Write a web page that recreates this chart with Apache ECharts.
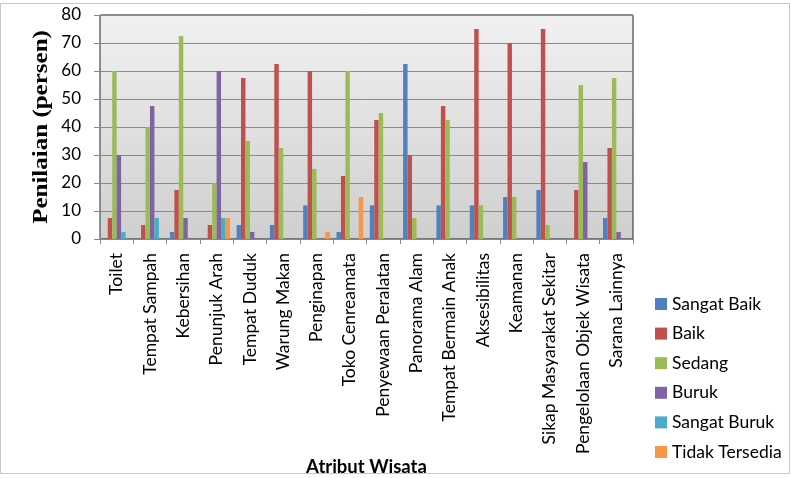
<!DOCTYPE html>
<html><head><meta charset="utf-8">
<script src="https://cdn.jsdelivr.net/npm/echarts@6/dist/echarts.min.js"></script>
<style>html,body{margin:0;padding:0;background:#fff}#c{width:791px;height:478px}</style>
</head><body><div id="c"></div>
<script>
const categories = ["Toilet","Tempat Sampah","Kebersihan","Penunjuk Arah","Tempat Duduk","Warung Makan","Penginapan","Toko Cenreamata","Penyewaan Peralatan","Panorama Alam","Tempat Bermain Anak","Aksesibilitas","Keamanan","Sikap Masyarakat Sekitar","Pengelolaan Objek Wisata","Sarana Lainnya"];
const sangatBaik   = [0,0,2.5,0,5,5,12,2.5,12,62.5,12,12,15,17.5,0,7.5];
const baik         = [7.5,5,17.5,5,57.5,62.5,60,22.5,42.5,30,47.5,75,70,75,17.5,32.5];
const sedang       = [60,40,72.5,20,35,32.5,25,60,45,7.5,42.5,12,15,5,55,57.5];
const buruk        = [30,47.5,7.5,60,2.5,0,0,0,0,0,0,0,0,0,27.5,2.5];
const sangatBuruk  = [2.5,7.5,0,7.5,0,0,0,0,0,0,0,0,0,0,0,0];
const tidakTersedia= [0,0,0,7.5,0,0,2.5,15,0,0,0,0,0,0,0,0];
const yTicks = [0,10,20,30,40,50,60,70,80];
const yTitle = 'Penilaian (persen)';

const seriesNames = ["Sangat Baik","Baik","Sedang","Buruk","Sangat Buruk","Tidak Tersedia"];
const seriesData = [sangatBaik,baik,sedang,buruk,sangatBuruk,tidakTersedia];
const colors = ["#4F81BD","#C0504D","#9BBB59","#8064A2","#4BACC6","#F79646"];

const chart = echarts.init(document.getElementById('c'), null, {renderer:'canvas'});
const font = 'Lato, "Open Sans", sans-serif';
chart.setOption({
  animation:false,
  color: colors,
  graphic:[
    {type:'rect', shape:{x:0.5,y:3.5,width:789,height:470}, style:{fill:'none', stroke:'#c8c8c8', lineWidth:1}, silent:true, z:-10},
    {type:'text', x:42, y:127, rotation:Math.PI/2, scaleX:1.25, silent:true,
     style:{text:yTitle, font:'bold 20px "Liberation Serif", serif', fill:'#000', align:'center', verticalAlign:'middle'}}
  ],
  grid:{left:100, top:15, width:533, height:224, show:true, borderColor:'#222', borderWidth:1,
    backgroundColor:{type:'linear',x:0,y:0,x2:0,y2:1,colorStops:[{offset:0,color:'#f1f1f1'},{offset:1,color:'#cfcfcf'}]}},
  legend:{orient:'vertical', left:650, top:290, itemWidth:12, itemHeight:12, itemGap:11.6, icon:'rect',
    textStyle:{fontFamily:font, fontSize:17.5, color:'#000', lineHeight:18}, data:seriesNames},
  xAxis:{type:'category', data:categories,
    name:'Atribut Wisata', nameLocation:'middle', nameGap:213,
    nameTextStyle:{fontFamily:font, fontSize:18.5, fontWeight:'bold', color:'#000'},
    axisLine:{lineStyle:{color:'#888'}}, axisTick:{show:true, length:5, lineStyle:{color:'#888'}},
    axisLabel:{rotate:90, interval:0, fontFamily:font, fontSize:17.5, color:'#000', margin:14}},
  yAxis:{type:'value', min:0, max:80, interval:10,
    axisLine:{show:true, lineStyle:{color:'#888'}}, axisTick:{show:true, inside:false, length:6, lineStyle:{color:'#888'}},
    axisLabel:{fontFamily:font, fontSize:17, color:'#000', margin:19,
      formatter:(v)=> yTicks.includes(v) ? String(v) : ''},
    splitLine:{lineStyle:{color:'#8a8a8a'}}},
  series: seriesNames.map((n,i)=>({name:n, type:'bar', data:seriesData[i], barWidth:4.45, barGap:'0%'}))
});
</script></body></html>
